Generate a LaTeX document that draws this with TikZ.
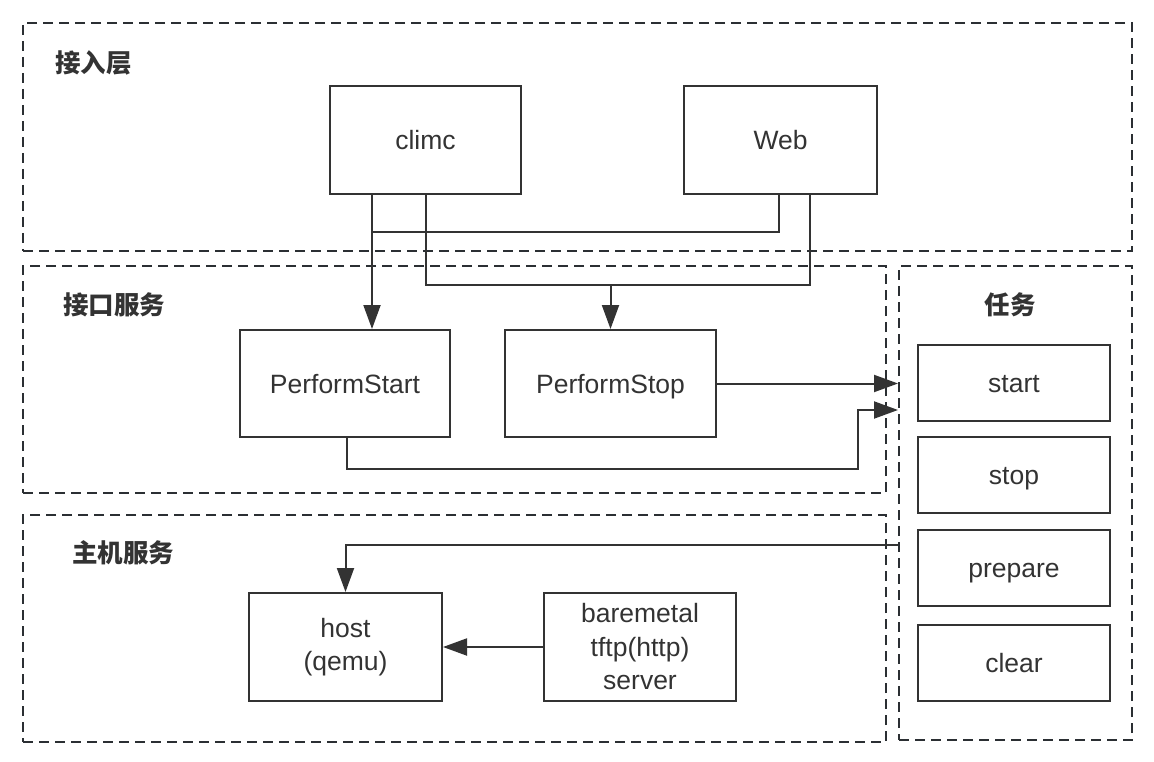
\documentclass[tikz,border=0pt]{standalone}
\usepackage{fontspec}
\setmainfont{Liberation Sans}
\newfontfamily\cjk{Noto Sans CJK SC}
\usetikzlibrary{arrows.meta}
\definecolor{ink}{HTML}{333333}
\definecolor{dash}{HTML}{2B2F33}
\tikzset{
  grp/.style={draw=dash, line width=2pt, dash pattern=on 10pt off 6pt, inner sep=0pt, anchor=north west},
  box/.style={draw=ink, line width=2pt, inner sep=0pt, align=center, text=ink, font=\fontsize{26.5}{33.5}\selectfont},
  one/.style={box, text height=19pt, text depth=0pt},
  glabel/.style={text=ink, font=\cjk\bfseries\fontsize{25.5}{28}\selectfont, inner sep=0pt},
  conn/.style={draw=ink, line width=2pt},
  arr/.style={conn, -{Triangle[length=24pt,width=17pt]}},
}
\begin{document}
\begin{tikzpicture}[x=1pt,y=-1pt]
\useasboundingbox (0,0) rectangle (1154,762);
% groups
\node[grp, minimum width=1109pt, minimum height=228pt] (g1) at (22,22) {};
\node[grp, minimum width=863pt, minimum height=227pt] (g2) at (22,265) {};
\node[grp, minimum width=233pt, minimum height=474pt] (task) at (898,265) {};
\node[grp, minimum width=863pt, minimum height=227pt] (g4) at (22,514) {};
% group labels
\node[glabel, anchor=west] (l1) at (55,63) {接入层};
\node[glabel, anchor=west] (l2) at (63,305) {接口服务};
\node[glabel, anchor=west] (l4) at (72,553) {主机服务};
\node[glabel] (l3) at (1010,305) {任务};
% boxes
\node[one, minimum width=191pt, minimum height=108pt] (climc) at (425.5,140) {climc};
\node[one, minimum width=193pt, minimum height=108pt] (web) at (780.5,140) {Web};
\node[one, minimum width=210pt, minimum height=107pt] (pstart) at (345,383.5) {PerformStart};
\node[one, minimum width=211pt, minimum height=107pt] (pstop) at (610.5,383.5) {PerformStop};
\node[one, minimum width=192pt, minimum height=76pt] (start) at (1014,383) {start};
\node[one, minimum width=192pt, minimum height=76pt] (stop) at (1014,475) {stop};
\node[one, minimum width=192pt, minimum height=76pt] (prepare) at (1014,568) {prepare};
\node[one, minimum width=192pt, minimum height=76pt] (clear) at (1014,663) {clear};
\node[box, minimum width=193pt, minimum height=108pt] (host) at (345.5,647) {host\\(qemu)};
\node[box, minimum width=192pt, minimum height=108pt] (bare) at (640,647) {baremetal\\tftp(http)\\server};
% junction coordinates
\coordinate (j1) at (372,232);
\coordinate (j2) at (426,285);
\coordinate (j3) at (858,469);
\coordinate (t2) at (898,410);
\coordinate (t3) at (898,545);
% connectors
\draw[arr] ([xshift=-53.5pt]climc.south) -- ([xshift=27pt]pstart.north);
\draw[conn] ([xshift=-1.5pt]web.south) |- (j1);
\draw[arr] (climc.south) |- (j2) -| (pstop.north);
\draw[conn] ([xshift=29.5pt]web.south) |- (pstop.north |- j2);
\draw[arr] (pstop.east) -- (task.west |- pstop.east);
\draw[arr] ([xshift=2pt]pstart.south) |- (j3) |- (t2);
\draw[arr] (t3) -| (host.north);
\draw[arr] (bare.west) -- (host.east);
\end{tikzpicture}
\end{document}
